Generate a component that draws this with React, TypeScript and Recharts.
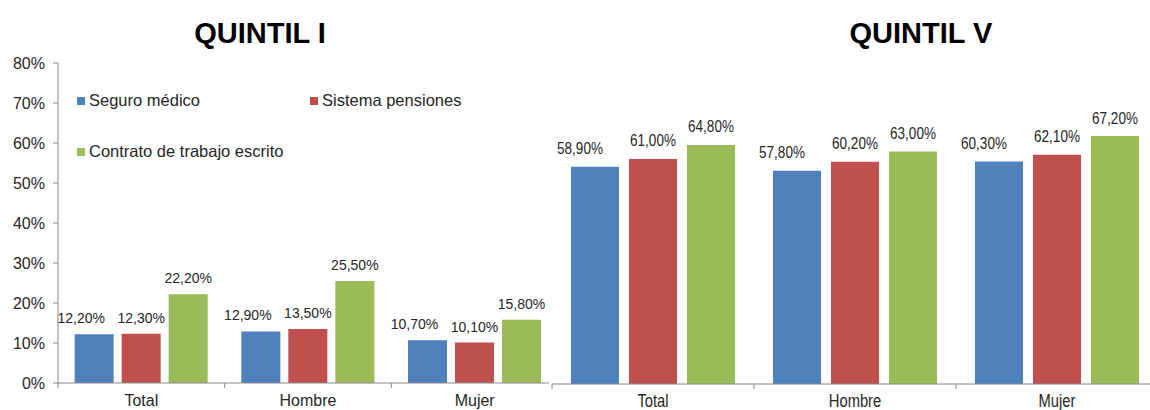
import React from 'react';
import { BarChart, Bar, XAxis, YAxis, LabelList, Legend } from 'recharts';

const categories = ['Total', 'Hombre', 'Mujer'];
const seriesNames = ['Seguro médico', 'Sistema pensiones', 'Contrato de trabajo escrito'];
const q1Seguro = [12.2, 12.9, 10.7];
const q1Pensiones = [12.3, 13.5, 10.1];
const q1Contrato = [22.2, 25.5, 15.8];
const q5Seguro = [58.9, 57.8, 60.3];
const q5Pensiones = [61.0, 60.2, 62.1];
const q5Contrato = [64.8, 63.0, 67.2];
const yTicks = [0, 10, 20, 30, 40, 50, 60, 70, 80];

const COLORS = ['#4F81BD', '#C0504D', '#9BBB59'];
const ARIAL = '"Liberation Sans", Arial, sans-serif';
const AXIS = '#898989';
const TXT = '#262626';
const NARROW_SCALE = 0.82;

const q1Data = categories.map((c, i) => ({ cat: c, seguro: q1Seguro[i], pensiones: q1Pensiones[i], contrato: q1Contrato[i] }));
const q5Data = categories.map((c, i) => ({ cat: c, seguro: q5Seguro[i], pensiones: q5Pensiones[i], contrato: q5Contrato[i] }));

const fmt = (v: any) => Number(v).toFixed(2).replace('.', ',') + '%';

const makeTick = (size: number, dy: number, sx: number) => (props: any) => {
  const { x, y, payload } = props;
  const off = payload && payload.offset ? payload.offset : 0;
  return (
    <g>
      <line x1={x - off} x2={x - off} y1={y} y2={y + 5} stroke={AXIS} strokeWidth={1} />
      <text transform={`translate(${x},${y + dy}) scale(${sx},1)`} textAnchor="middle" fontFamily={ARIAL} fontSize={size} fill={TXT}>
        {payload.value}
      </text>
    </g>
  );
};

const makeLabel = (size: number, offset: number, shift: number, sx: number) => (props: any) => {
  const x = Number(props.x);
  const y = Number(props.y);
  const w = Number(props.width);
  const cx = x + w / 2 + shift;
  const by = y - offset;
  return (
    <text transform={`translate(${cx},${by}) scale(${sx},1)`} textAnchor="middle" fontFamily={ARIAL} fontSize={size} fill={TXT}>
      {fmt(props.value)}
    </text>
  );
};

const LegendContent = (props: any) => {
  const payload = [...(props.payload || [])].sort(
    (a: any, b: any) => seriesNames.indexOf(a.value) - seriesNames.indexOf(b.value)
  );
  return (
    <div style={{ display: 'flex', flexWrap: 'wrap', width: 470 }}>
      {payload.map((p: any, i: number) => (
        <div key={i} style={{ width: 233, height: 51, display: 'flex', alignItems: 'center' }}>
          <span style={{ display: 'inline-block', width: 8, height: 8, background: p.color, marginRight: 4 }} />
          <span style={{ fontFamily: ARIAL, fontSize: 16.5, color: TXT, whiteSpace: 'nowrap' }}>{p.value}</span>
        </div>
      ))}
    </div>
  );
};

const titleStyle = (cx: number): React.CSSProperties => ({
  position: 'absolute',
  top: 19,
  left: cx - 150,
  width: 300,
  textAlign: 'center',
  fontFamily: ARIAL,
  fontWeight: 'bold',
  fontSize: 29,
  lineHeight: '29px',
  color: '#000',
});

export default function App() {
  const keys = ['seguro', 'pensiones', 'contrato'];
  const q1Shift = [-13, 0, 0];
  const q5Shift = [-15, 0, 0];
  return (
    <div style={{ position: 'absolute', left: 0, top: 0, width: 1150, height: 410, overflow: 'hidden', background: '#fff' }}>
      <div style={{ position: 'absolute', left: 0, top: 0 }}>
        <BarChart width={560} height={410} data={q1Data} margin={{ top: 63, right: 2, bottom: 0, left: 0 }} barCategoryGap="10%" barGap={8}>
          <XAxis dataKey="cat" height={27} axisLine={{ stroke: AXIS }} tickLine={false} tickSize={0} tickMargin={0} tick={makeTick(16, 22.5, 1)} interval={0} />
          <YAxis width={58} domain={[0, 80]} ticks={yTicks} tickFormatter={(v) => `${v}%`} axisLine={{ stroke: AXIS }} tickLine={{ stroke: AXIS }} tickSize={5} tickMargin={8} tick={{ fontFamily: ARIAL, fontSize: 16, fill: TXT }} interval={0} />
          <Legend layout="horizontal" verticalAlign="middle" align="center" itemSorter={null as any} wrapperStyle={{ top: 75, left: 77, width: 470, height: 102 }} content={<LegendContent />} />
          {keys.map((k, i) => (
            <Bar key={k} dataKey={k} name={seriesNames[i]} fill={COLORS[i]} isAnimationActive={false}>
              <LabelList dataKey={k} content={makeLabel(14, 11, q1Shift[i], 1)} />
            </Bar>
          ))}
        </BarChart>
      </div>
      <div style={{ position: 'absolute', left: 549, top: 0, width: 601, height: 410, overflow: 'hidden', background: '#fff' }}>
        <BarChart width={612} height={410} data={q5Data} margin={{ top: 15, right: 3, bottom: 0, left: 3 }} barCategoryGap="9.4%" barGap={10}>
          <XAxis dataKey="cat" height={26} axisLine={{ stroke: AXIS }} tickLine={false} tickSize={0} tickMargin={0} tick={makeTick(18, 23, NARROW_SCALE)} interval={0} />
          <YAxis hide domain={[0, 100]} />
          {keys.map((k, i) => (
            <Bar key={k} dataKey={k} name={seriesNames[i]} fill={COLORS[i]} isAnimationActive={false}>
              <LabelList dataKey={k} content={makeLabel(16.5, 12.5, q5Shift[i], NARROW_SCALE)} />
            </Bar>
          ))}
        </BarChart>
      </div>
      <div style={titleStyle(260)}>QUINTIL I</div>
      <div style={titleStyle(921)}>QUINTIL V</div>
    </div>
  );
}
